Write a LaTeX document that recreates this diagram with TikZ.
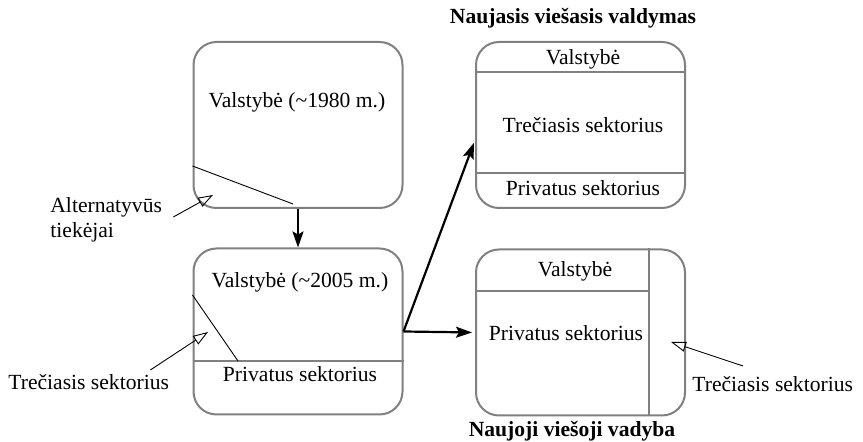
\documentclass[tikz,border=0pt]{standalone}
\usepackage{fontspec}
\setmainfont{Liberation Serif}
\usepackage{xcolor}
\usepackage{tikz}
\usetikzlibrary{arrows.meta}

\definecolor{boxgray}{RGB}{128,128,128}

\begin{document}
\begin{tikzpicture}[x=0.5pt,y=-0.5pt,
	font=\fontsize{10.8pt}{12.5pt}\selectfont,
	every node/.style={inner sep=0pt},
	box/.style={draw=boxgray,line width=1pt,rounded corners=11.5pt,
		minimum width=104.5pt,minimum height=83pt},
	inner/.style={draw=boxgray,line width=0.6pt},
	thinline/.style={draw=black,line width=0.45pt},
	pointer/.style={thinline,-{Triangle[open,length=7.5pt,width=5pt]}},
	mainarrow/.style={line width=1.1pt,-{Stealth[length=8pt,width=5.5pt,inset=1.5pt]}}]
		\useasboundingbox (0,0) rectangle (863,442);

		\node[box] (A) at (298,125) {};
		\node[box] (B) at (298,331.5) {};
		\node[box] (C) at (580.5,125) {};
		\node[box] (D) at (580.5,332.5) {};

		\node (A1) at (297,102) {Valstybė (\textasciitilde1980 m.)};
		\node (B1) at (300,282) {Valstybė (\textasciitilde2005 m.)};
		\node (B2) at (300,374) {Privatus sektorius};

		\node (C1) at (583,59) {Valstybė};
		\node (C2) at (583,125) {Trečiasis sektorius};
		\node (C3) at (583,188) {Privatus sektorius};
		\node (D1) at (575,271) {Valstybė};
		\node (D2) at (566,333) {Privatus sektorius};

		\node (Ct) at (573,18) {\textbf{Naujasis viešasis valdymas}};
		\node (Dt) at (572,431) {\textbf{Naujoji viešoji vadyba}};

		\node[align=left,anchor=west] (alt) at (50,220) {Alternatyvūs\\tiekėjai};
		\node[anchor=west] (T1) at (8,382) {Trečiasis sektorius};
		\node[anchor=west] (T2) at (692,384) {Trečiasis sektorius};

		\coordinate (p1) at (213,195);
		\coordinate (p2) at (208,332);
		\coordinate (p3) at (671,342);
		%
		\draw[inner] (C.west |- 0,72) -- (C.east |- 0,72);
		\draw[inner] (C.west |- 0,173) -- (C.east |- 0,173);
		\draw[inner] (B.west |- 0,361) -- (B.east |- 0,361);
		\draw[inner] (D.west |- 0,291) -- (649,291);
		\draw[inner] (D.north -| 649,0) -- (D.south -| 649,0);

		\draw[thinline] (A.west |- 0,166) -- (293,204);
		\draw[thinline] (B.west |- 0,295) -- (238,361);

		\draw[pointer] ([shift={(11,-3)}]alt.east) -- (p1);
		\draw[pointer] ([shift={(-19,-4)}]T1.north east) -- (p2);
		\draw[pointer] ([shift={(51,-10)}]T2.north west) -- (p3);

		\path[mainarrow]
		(A) edge (B)
		(B.east) edge[shorten >=1.5pt] ([yshift=-7.5pt]C.west)
		(B.east) edge[shorten >=1.5pt] (D.west);

	\end{tikzpicture}
\end{document}
